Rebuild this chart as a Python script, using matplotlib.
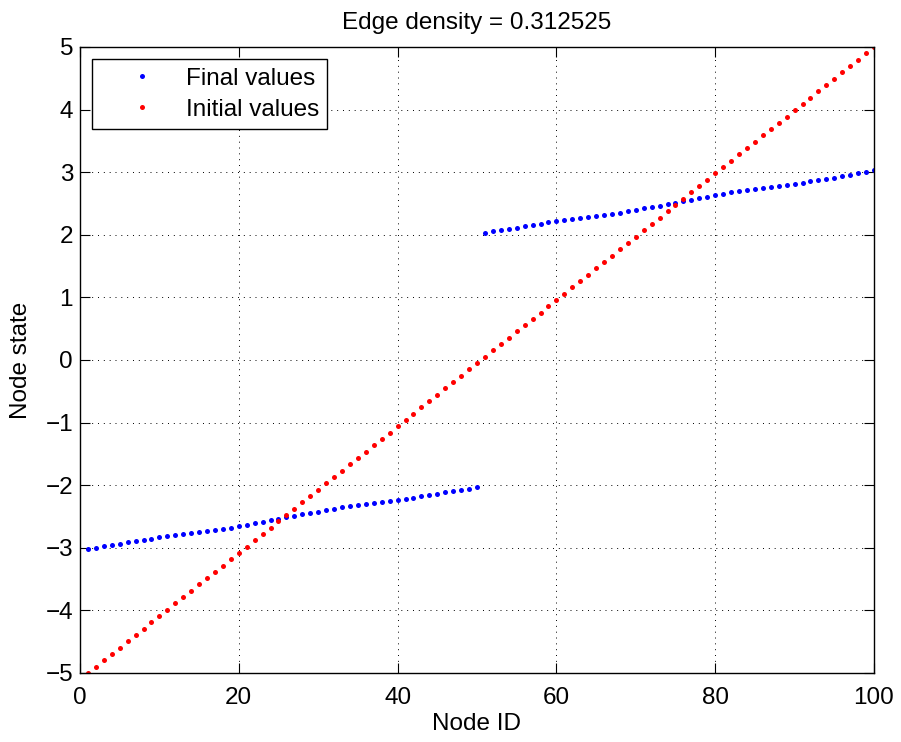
import matplotlib
matplotlib.use("Agg")
import matplotlib.pyplot as plt

plt.rcParams["font.family"] = ["Liberation Sans", "DejaVu Sans"]

node_ids = list(range(1, 101))

initial_values = [
    -5.000, -4.899, -4.798, -4.697, -4.596, -4.495, -4.394, -4.293, -4.192, -4.091,
    -3.990, -3.889, -3.788, -3.687, -3.586, -3.485, -3.384, -3.283, -3.182, -3.081,
    -2.980, -2.879, -2.778, -2.677, -2.576, -2.475, -2.374, -2.273, -2.172, -2.071,
    -1.970, -1.869, -1.768, -1.667, -1.566, -1.465, -1.364, -1.263, -1.162, -1.061,
    -0.960, -0.859, -0.758, -0.657, -0.556, -0.455, -0.354, -0.253, -0.152, -0.051,
    0.051, 0.152, 0.253, 0.354, 0.455, 0.556, 0.657, 0.758, 0.859, 0.960,
    1.061, 1.162, 1.263, 1.364, 1.465, 1.566, 1.667, 1.768, 1.869, 1.970,
    2.071, 2.172, 2.273, 2.374, 2.475, 2.576, 2.677, 2.778, 2.879, 2.980,
    3.081, 3.182, 3.283, 3.384, 3.485, 3.586, 3.687, 3.788, 3.889, 3.990,
    4.091, 4.192, 4.293, 4.394, 4.495, 4.596, 4.697, 4.798, 4.899, 5.000,
]

final_values = [
    -3.021, -3.000, -2.979, -2.958, -2.932, -2.911, -2.890, -2.869, -2.853, -2.832,
    -2.817, -2.801, -2.785, -2.770, -2.749, -2.733, -2.717, -2.707, -2.681, -2.654,
    -2.634, -2.607, -2.586, -2.560, -2.534, -2.513, -2.492, -2.466, -2.450, -2.429,
    -2.398, -2.377, -2.351, -2.335, -2.319, -2.298, -2.283, -2.267, -2.246, -2.230,
    -2.215, -2.199, -2.173, -2.157, -2.136, -2.115, -2.099, -2.079, -2.063, -2.031,
    2.025, 2.060, 2.079, 2.099, 2.115, 2.136, 2.157, 2.173, 2.199, 2.215,
    2.230, 2.246, 2.267, 2.283, 2.298, 2.319, 2.335, 2.351, 2.377, 2.398,
    2.429, 2.450, 2.466, 2.492, 2.513, 2.534, 2.560, 2.586, 2.607, 2.634,
    2.654, 2.681, 2.707, 2.717, 2.733, 2.749, 2.770, 2.785, 2.801, 2.817,
    2.832, 2.853, 2.869, 2.890, 2.911, 2.932, 2.958, 2.979, 3.000, 3.030,
]

x_ticks = [0, 20, 40, 60, 80, 100]
y_ticks = [-5, -4, -3, -2, -1, 0, 1, 2, 3, 4, 5]

fs = 17.5

fig = plt.figure(figsize=(9.01, 7.42), dpi=100)
ax = fig.add_axes([0.0888, 0.093, 0.8812, 0.8437])

ax.plot(node_ids, final_values, linestyle="none", marker="o", ms=3.6,
        color="#0000ff", mec="none", label="Final values")
ax.plot(node_ids, initial_values, linestyle="none", marker="o", ms=3.6,
        color="#ff0000", mec="none", label="Initial values")

ax.set_xlim(0, 100)
ax.set_ylim(-5, 5)
ax.set_xticks(x_ticks)
ax.set_yticks(y_ticks)
ax.tick_params(direction="in", length=7, width=0.8, top=True, right=True,
               labelsize=fs)
ax.tick_params(axis="x", pad=10)
ax.tick_params(axis="y", pad=5)
ax.grid(True, linestyle=(0, (1, 5)), color="black", linewidth=0.7)
for s in ax.spines.values():
    s.set_linewidth(1.0)

ax.set_xlabel("Node ID", fontsize=fs, labelpad=3)
ax.set_ylabel("Node state", fontsize=fs, labelpad=10)
ax.set_title("Edge density = 0.312525", fontsize=fs, pad=13)

leg = ax.legend(loc="upper left", fontsize=fs, fancybox=False, framealpha=1,
                edgecolor="black", handlelength=3.4, handletextpad=0.1,
                borderaxespad=0.5, borderpad=0.35, labelspacing=0.38)
leg.get_frame().set_linewidth(1.0)

fig.savefig("out.png", dpi=100)
